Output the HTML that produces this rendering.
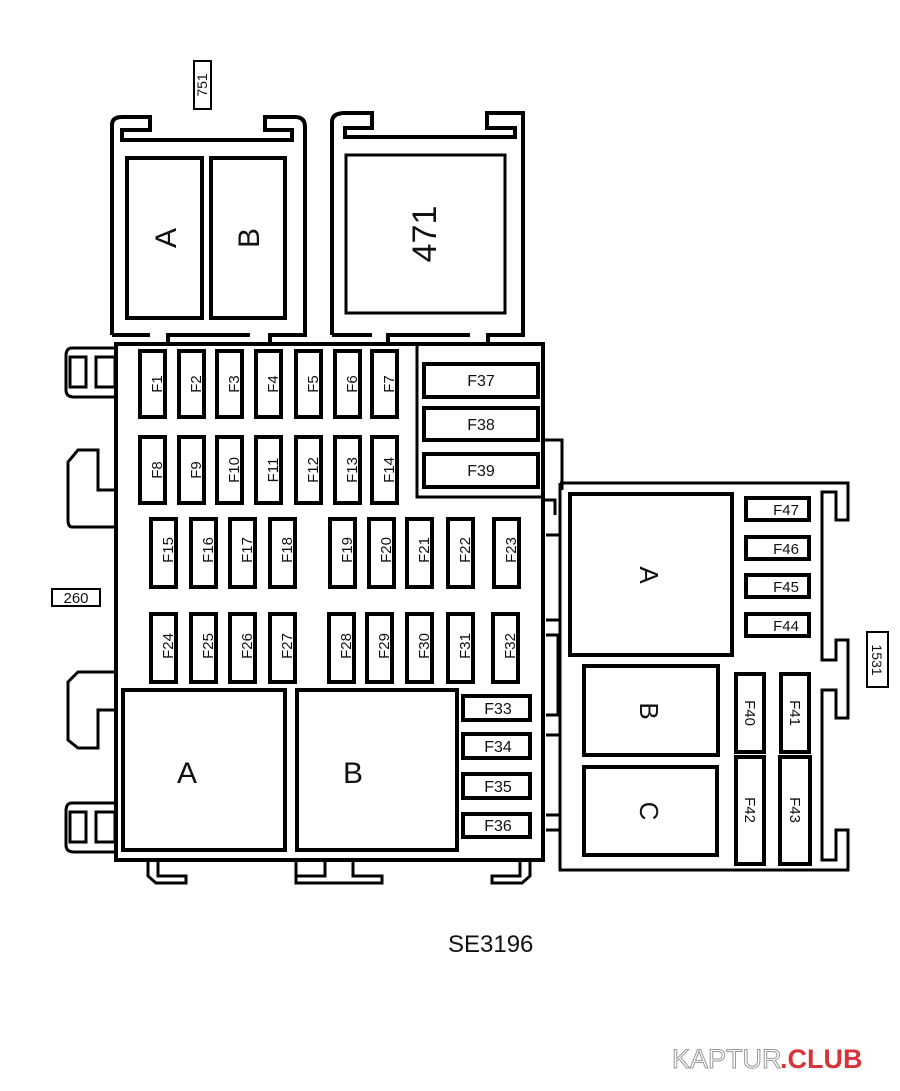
<!DOCTYPE html>
<html><head><meta charset="utf-8"><style>
html,body{margin:0;padding:0;background:#fff;}
svg{display:block;}
text{font-family:"Liberation Sans",sans-serif;fill:#111;}
</style></head><body>
<svg width="900" height="1091" viewBox="0 0 900 1091" xmlns="http://www.w3.org/2000/svg">
<g fill="none" stroke="#000" stroke-width="4">
<path d="M112,335 V125 Q112,117 122,117 H150 V130 H122 V140 H292 V130 H265 V117 H295 Q305,117 305,127 V335 H270 V343 M250,335 H168 V343 M150,335 H112"/>
<rect x="127" y="158" width="75" height="160"/>
<rect x="211" y="158" width="74" height="160"/>
<rect x="194" y="61" width="17" height="48" stroke-width="2"/>
<path d="M332,335 V122 Q332,113 345,113 H372 V128 H345 V137 H515 V128 H487 V113 H523 V335 H488 V343 M470,335 H388 V343 M372,335 H332"/>
<rect x="346" y="155" width="159" height="158" stroke-width="3"/>
<rect x="116" y="344" width="427" height="516"/>
<path d="M417,344 V497 H543" stroke-width="3"/>
<path d="M115,348 H72 Q66,348 66,356 V390 Q66,397 74,397 H115" stroke-width="3"/>
<rect x="70" y="357" width="16" height="30" stroke-width="3"/>
<rect x="96" y="357" width="19" height="30" stroke-width="3"/>
<path d="M115,527 H72 Q68,527 68,520 V462 L78,450 H98 V490 H115" stroke-width="3"/>
<path d="M115,672 H78 L68,682 V740 L78,748 H98 V710 H115" stroke-width="3"/>
<path d="M115,803 H72 Q66,803 66,811 V845 Q66,852 74,852 H115" stroke-width="3"/>
<rect x="70" y="812" width="16" height="30" stroke-width="3"/>
<rect x="96" y="812" width="19" height="30" stroke-width="3"/>
<rect x="52" y="589" width="48" height="17" stroke-width="2"/>
<path d="M148,860 V876 L156,883 H186 V876 H158 V860" stroke-width="3"/>
<path d="M296,860 V883 H382 V876 H353 V862 M325,862 V876 H296" stroke-width="3"/>
<path d="M530,860 V876 L522,883 H492 V876 H520 V860" stroke-width="3"/>
<path d="M543,440 H562 V490 M543,500 H555 V515" stroke-width="3"/>
<path d="M546,535 H560 V620 H546 M546,635 H558 V715 H546 M546,735 H560 V815 H546 M546,830 H560 V860" stroke-width="3"/>
<path d="M560,483 H848 V520 H836 V492 H822 V660 H836 V640 H848 V718 H836 V690 H822 V860 H836 V830 H848 V870 H560 V483" stroke-width="3"/>
<rect x="570" y="494" width="162" height="161"/>
<rect x="584" y="666" width="134" height="89"/>
<rect x="584" y="767" width="133" height="88"/>
<rect x="867" y="632" width="21" height="55" stroke-width="2"/>
</g>
<g fill="#fff" stroke="#000" stroke-width="4">
<rect x="140" y="351" width="25" height="66"/><rect x="179" y="351" width="25" height="66"/><rect x="217" y="351" width="25" height="66"/><rect x="256" y="351" width="25" height="66"/><rect x="296" y="351" width="25" height="66"/><rect x="335" y="351" width="25" height="66"/><rect x="372" y="351" width="25" height="66"/>
<rect x="140" y="437" width="25" height="66"/><rect x="179" y="437" width="25" height="66"/><rect x="217" y="437" width="25" height="66"/><rect x="256" y="437" width="25" height="66"/><rect x="296" y="437" width="25" height="66"/><rect x="335" y="437" width="25" height="66"/><rect x="372" y="437" width="25" height="66"/>
<rect x="151" y="519" width="25" height="68"/><rect x="191" y="519" width="25" height="68"/><rect x="230" y="519" width="25" height="68"/><rect x="270" y="519" width="25" height="68"/><rect x="330" y="519" width="25" height="68"/><rect x="369" y="519" width="25" height="68"/><rect x="407" y="519" width="25" height="68"/><rect x="448" y="519" width="25" height="68"/><rect x="494" y="519" width="25" height="68"/>
<rect x="151" y="614" width="25" height="68"/><rect x="191" y="614" width="25" height="68"/><rect x="230" y="614" width="25" height="68"/><rect x="270" y="614" width="25" height="68"/><rect x="329" y="614" width="25" height="68"/><rect x="367" y="614" width="25" height="68"/><rect x="407" y="614" width="25" height="68"/><rect x="448" y="614" width="25" height="68"/><rect x="493" y="614" width="25" height="68"/>
<rect x="424" y="364" width="114" height="33"/><rect x="424" y="408" width="114" height="32"/><rect x="424" y="454" width="114" height="33"/>
<rect x="463" y="696" width="67" height="24"/><rect x="463" y="734" width="67" height="24"/><rect x="463" y="774" width="67" height="24"/><rect x="463" y="814" width="67" height="23"/>
<rect x="746" y="498" width="63" height="22"/><rect x="746" y="537" width="63" height="22"/><rect x="746" y="575" width="63" height="22"/><rect x="746" y="614" width="63" height="22"/>
<rect x="736" y="674" width="28" height="78"/><rect x="781" y="674" width="28" height="78"/>
<rect x="736" y="757" width="28" height="107"/><rect x="780" y="757" width="30" height="107"/>
</g>
<g fill="none" stroke="#000" stroke-width="4">
<rect x="123" y="690" width="162" height="160"/>
<rect x="297" y="690" width="160" height="160"/>
</g>
<g font-size="15" text-anchor="middle">
<g transform="translate(157,384) rotate(-90)"><text y="5">F1</text></g>
<g transform="translate(196,384) rotate(-90)"><text y="5">F2</text></g>
<g transform="translate(234,384) rotate(-90)"><text y="5">F3</text></g>
<g transform="translate(273,384) rotate(-90)"><text y="5">F4</text></g>
<g transform="translate(313,384) rotate(-90)"><text y="5">F5</text></g>
<g transform="translate(352,384) rotate(-90)"><text y="5">F6</text></g>
<g transform="translate(389,384) rotate(-90)"><text y="5">F7</text></g>
<g transform="translate(157,470) rotate(-90)"><text y="5">F8</text></g>
<g transform="translate(196,470) rotate(-90)"><text y="5">F9</text></g>
<g transform="translate(234,470) rotate(-90)"><text y="5">F10</text></g>
<g transform="translate(273,470) rotate(-90)"><text y="5">F11</text></g>
<g transform="translate(313,470) rotate(-90)"><text y="5">F12</text></g>
<g transform="translate(352,470) rotate(-90)"><text y="5">F13</text></g>
<g transform="translate(389,470) rotate(-90)"><text y="5">F14</text></g>
<g transform="translate(168,550) rotate(-90)"><text y="5">F15</text></g>
<g transform="translate(208,550) rotate(-90)"><text y="5">F16</text></g>
<g transform="translate(247,550) rotate(-90)"><text y="5">F17</text></g>
<g transform="translate(287,550) rotate(-90)"><text y="5">F18</text></g>
<g transform="translate(347,550) rotate(-90)"><text y="5">F19</text></g>
<g transform="translate(386,550) rotate(-90)"><text y="5">F20</text></g>
<g transform="translate(424,550) rotate(-90)"><text y="5">F21</text></g>
<g transform="translate(465,550) rotate(-90)"><text y="5">F22</text></g>
<g transform="translate(511,550) rotate(-90)"><text y="5">F23</text></g>
<g transform="translate(168,646) rotate(-90)"><text y="5">F24</text></g>
<g transform="translate(208,646) rotate(-90)"><text y="5">F25</text></g>
<g transform="translate(247,646) rotate(-90)"><text y="5">F26</text></g>
<g transform="translate(287,646) rotate(-90)"><text y="5">F27</text></g>
<g transform="translate(346,646) rotate(-90)"><text y="5">F28</text></g>
<g transform="translate(384,646) rotate(-90)"><text y="5">F29</text></g>
<g transform="translate(424,646) rotate(-90)"><text y="5">F30</text></g>
<g transform="translate(465,646) rotate(-90)"><text y="5">F31</text></g>
<g transform="translate(510,646) rotate(-90)"><text y="5">F32</text></g>
<text x="481" y="386" font-size="16">F37</text>
<text x="481" y="430" font-size="16">F38</text>
<text x="481" y="476" font-size="16">F39</text>
<text x="498" y="714" font-size="16">F33</text>
<text x="498" y="752" font-size="16">F34</text>
<text x="498" y="792" font-size="16">F35</text>
<text x="498" y="831" font-size="16">F36</text>
<text x="786" y="515">F47</text>
<text x="786" y="554">F46</text>
<text x="786" y="592">F45</text>
<text x="786" y="631">F44</text>
<g transform="translate(750,713) rotate(90)"><text y="5">F40</text></g>
<g transform="translate(795,713) rotate(90)"><text y="5">F41</text></g>
<g transform="translate(750,810) rotate(90)"><text y="5">F42</text></g>
<g transform="translate(795,810) rotate(90)"><text y="5">F43</text></g>
<g transform="translate(202,85) rotate(-90)"><text y="5" font-size="14">751</text></g>
<g transform="translate(877,660) rotate(90)"><text y="5" font-size="14">1531</text></g>
<text x="76" y="603" font-size="15">260</text>
</g>
<g font-size="30" text-anchor="middle">
<g transform="translate(165,238) rotate(-90)"><text y="11">A</text></g>
<g transform="translate(248,238) rotate(-90)"><text y="11">B</text></g>
<g transform="translate(425,234) rotate(-90)"><text y="11" font-size="34">471</text></g>
<text x="187" y="783">A</text>
<text x="353" y="783">B</text>
<g transform="translate(651,575) rotate(90)"><text y="11" font-size="26">A</text></g>
<g transform="translate(651,711) rotate(90)"><text y="11" font-size="26">B</text></g>
<g transform="translate(651,811) rotate(90)"><text y="11" font-size="26">C</text></g>
</g>
<text x="448" y="952" font-size="24">SE3196</text>
<text x="672" y="1068" font-size="27" style="fill:#fff" stroke="#999" stroke-width="1">KAPTUR</text>
<text x="780" y="1068" font-size="27" font-weight="bold" style="fill:#d8333a">.CLUB</text>
</svg>
</body></html>
